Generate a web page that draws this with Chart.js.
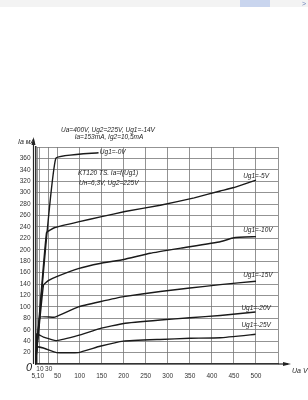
<!DOCTYPE html>
<html lang="en">
<head>
  <meta charset="UTF-8" />
  <title>KT120 Ia(Ua)</title>
  <script src="https://cdn.jsdelivr.net/npm/chart.js"></script>
  <style>
    html, body { margin: 0; padding: 0; background: #fff; }
    #wrap { width: 308px; height: 400px; }
  </style>
</head>
<body>
  <div id="wrap"><canvas id="plate" width="308" height="400"></canvas></div>

  <script>
    // plate current curves, Ia (mA) vs Ua (V), one pair of arrays per grid voltage
    const ug0_ua  = [0, 46, 143];
    const ug0_ia  = [0, 360, 370];
    const ug5_ua  = [0, 25, 44, 97, 150, 203, 283, 360, 419, 450, 500];
    const ug5_ia  = [0, 230, 239, 249, 258, 267, 278, 291, 303, 309, 322];
    const ug10_ua = [0, 18, 29, 48, 97, 146, 200, 260, 330, 419, 450, 500];
    const ug10_ia = [0, 138, 146, 153, 167, 176, 183, 194, 203, 214, 221, 223];
    const ug15_ua = [0, 10, 44, 97, 146, 200, 283, 350, 419, 500];
    const ug15_ia = [0, 82, 82, 100, 109, 118, 127, 133, 139, 145];
    const ug20_ua = [0, 3, 18, 48, 97, 146, 200, 283, 350, 419, 499];
    const ug20_ia = [0, 53, 47, 41, 50, 62, 71, 77, 81, 85, 91];
    const ug25_ua = [0, 2, 18, 48, 97, 146, 200, 282, 350, 419, 499];
    const ug25_ia = [0, 30, 28, 20, 20, 31, 40, 43, 45, 46, 52];

    const curveNames = ['Ug1=-0V', 'Ug1=-5V', 'Ug1=-10V', 'Ug1=-15V', 'Ug1=-20V', 'Ug1=-25V'];
    const uaTicks = [0, 5, 10, 30, 50, 100, 150, 200, 250, 300, 350, 400, 450, 500, 550];

    const pairs = [[ug0_ua, ug0_ia], [ug5_ua, ug5_ia], [ug10_ua, ug10_ia],
                   [ug15_ua, ug15_ia], [ug20_ua, ug20_ia], [ug25_ua, ug25_ia]];

    const datasets = pairs.map((p, i) => ({
      label: curveNames[i],
      data: p[0].map((u, k) => ({ x: u, y: p[1][k] })),
      borderColor: '#1a1a1a',
      borderWidth: 1.4,
      pointRadius: 0,
      tension: 0.1,
      fill: false
    }));

    // curve labels, anchored in data units (Ua, Ia)
    const curveLabels = [
      ['Ug1=-0V', 146, 371],
      ['Ug1=-5V', 471, 329],
      ['Ug1=-10V', 471, 235],
      ['Ug1=-15V', 471, 155],
      ['Ug1=-20V', 467, 98],
      ['Ug1=-25V', 467, 68]
    ];

    const FONT = "'Liberation Sans', Arial, sans-serif";

    const decor = {
      id: 'decor',
      afterDraw(chart) {
        const ctx = chart.ctx;
        const xs = chart.scales.x, ys = chart.scales.y;
        const area = chart.chartArea;
        ctx.save();

        // faint strip left over from the screenshot
        ctx.fillStyle = '#f3f3f3';
        ctx.fillRect(0, 0, 308, 7);
        ctx.fillStyle = '#c9d5ee';
        ctx.fillRect(240, 0, 30, 7);
        ctx.fillStyle = '#6a7fb8';
        ctx.font = '7px ' + FONT;
        ctx.fillText('>', 302, 6);

        // axis arrows
        ctx.strokeStyle = '#222';
        ctx.fillStyle = '#222';
        ctx.lineWidth = 1.2;
        ctx.beginPath();
        ctx.moveTo(area.left - 2, area.bottom);
        ctx.lineTo(area.left - 2, 139);
        ctx.stroke();
        ctx.beginPath();
        ctx.moveTo(area.left - 2, 137);
        ctx.lineTo(area.left - 4, 145);
        ctx.lineTo(area.left, 145);
        ctx.closePath();
        ctx.fill();
        ctx.beginPath();
        ctx.moveTo(area.right, area.bottom);
        ctx.lineTo(288, area.bottom);
        ctx.stroke();
        ctx.beginPath();
        ctx.moveTo(291, area.bottom);
        ctx.lineTo(283, area.bottom - 2);
        ctx.lineTo(283, area.bottom + 2);
        ctx.closePath();
        ctx.fill();

        // texts
        ctx.fillStyle = '#222';
        ctx.textBaseline = 'middle';
        ctx.textAlign = 'left';
        ctx.font = 'italic 7px ' + FONT;
        ctx.fillText('Ia мА', 18, 142);
        ctx.fillText('Ua V', 292, 371);
        ctx.font = 'italic 6.5px ' + FONT;
        ctx.textAlign = 'center';
        ctx.fillText('Ua=400V, Ug2=225V, Ug1=-14V', 108, 130);
        ctx.fillText('Ia=153mA, Ig2=10,5mA', 109, 137);
        ctx.textAlign = 'left';
        ctx.fillText('KT120 TS. Ia=f(Ug1)', 78, 173);
        ctx.fillText('Uн=6,3V, Ug2=225V', 79, 183);
        curveLabels.forEach(l => {
          ctx.fillText(l[0], xs.getPixelForValue(l[1]), ys.getPixelForValue(l[2]));
        });
        ctx.font = 'italic 11px ' + FONT;
        ctx.fillText('0', 26, 368);
        ctx.restore();
      }
    };

    new Chart(document.getElementById('plate'), {
      type: 'line',
      data: { datasets: datasets },
      options: {
        responsive: false,
        animation: false,
        layout: { padding: { top: 147, right: 30, bottom: 16, left: 0 } },
        plugins: { legend: { display: false }, tooltip: { enabled: false } },
        scales: {
          x: {
            type: 'linear',
            min: 0,
            max: 550,
            afterBuildTicks: s => { s.ticks = uaTicks.map(v => ({ value: v })); },
            afterFit: s => { s.height = 20; },
            grid: { color: '#777', lineWidth: 0.8, drawTicks: false },
            border: { color: '#333', width: 1.2 },
            ticks: {
              autoSkip: false,
              maxRotation: 0,
              padding: 2,
              color: '#333',
              font: { family: FONT, size: 6.5, lineHeight: 1.0 },
              callback: v => {
                if (v === 5) return ['', '5,10'];
                if (v === 10 || v === 30) return [String(v), ''];
                if (v === 0 || v === 550) return ['', ''];
                return ['', String(v)];
              }
            }
          },
          y: {
            min: 0,
            max: 380,
            afterFit: s => { s.width = 35.5; },
            grid: { color: '#777', lineWidth: 0.8, drawTicks: false },
            border: { color: '#333', width: 1.5 },
            ticks: {
              stepSize: 20,
              padding: 5,
              color: '#333',
              font: { family: FONT, size: 6.5 },
              callback: v => (v >= 20 && v <= 360) ? v : ''
            }
          }
        }
      },
      plugins: [decor]
    });
  </script>
</body>
</html>
